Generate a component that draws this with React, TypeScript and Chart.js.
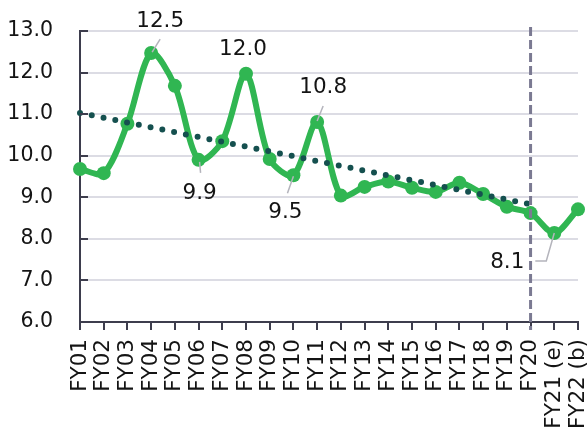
import React, { useEffect, useRef } from "react";
import { Chart, registerables } from "chart.js";

Chart.register(...registerables);

const categories = [
  "FY01", "FY02", "FY03", "FY04", "FY05", "FY06", "FY07", "FY08", "FY09", "FY10", "FY11",
  "FY12", "FY13", "FY14", "FY15", "FY16", "FY17", "FY18", "FY19", "FY20", "FY21 (e)", "FY22 (b)",
];

const values = [
  9.68, 9.58, 10.77, 12.47, 11.68, 9.9, 10.35, 11.97, 9.92, 9.53, 10.81,
  9.04, 9.25, 9.38, 9.23, 9.13, 9.35, 9.08, 8.77, 8.62, 8.14, 8.71,
];

// linear trend over FY01..FY20 (endpoints)
const trend: (number | null)[] = [
  11.03, null, null, null, null, null, null, null, null, null, null,
  null, null, null, null, null, null, null, null, 8.83, null, null,
];

const yTicks = [6, 7, 8, 9, 10, 11, 12, 13];

const dividerIndex = 19; // FY20

const callouts = [
  { index: 3, text: "12.5", dx: 9, dy: -32, leader: [[1, -1], [9, -14]] },
  { index: 7, text: "12.0", dx: -3, dy: -24, leader: [] as number[][] },
  { index: 5, text: "9.9", dx: 1, dy: 34, leader: [[1, 2], [2, 13]] },
  { index: 9, text: "9.5", dx: -8, dy: 37, leader: [[0, 1], [-6, 18]] },
  { index: 10, text: "10.8", dx: 6, dy: -35, leader: [[0, -1], [6, -16]] },
  { index: 20, text: "8.1", dx: -47, dy: 29, leader: [[0, 0], [-8, 28], [-19, 28]] },
];

const FONT = "'DejaVu Sans', Verdana, sans-serif";
const AXIS = "#3d3d4d";
const GREEN = "#30b652";
const TEAL = "#15504f";

const extrasPlugin = {
  id: "extras",
  afterDatasetsDraw(chart: any) {
    const { ctx, chartArea, scales } = chart;
    const x = scales.x;
    const y = scales.y;
    ctx.save();
    // inward y ticks
    ctx.strokeStyle = AXIS;
    ctx.lineWidth = 2;
    for (const t of yTicks) {
      const py = Math.round(y.getPixelForValue(t));
      ctx.beginPath();
      ctx.moveTo(chartArea.left, py);
      ctx.lineTo(chartArea.left + 8, py);
      ctx.stroke();
    }
    // divider
    const px = x.getPixelForValue(dividerIndex);
    ctx.setLineDash([9, 4]);
    ctx.strokeStyle = "#7b7a92";
    ctx.lineWidth = 3;
    ctx.beginPath();
    ctx.moveTo(px, chartArea.top - 4);
    ctx.lineTo(px, chartArea.bottom + 8);
    ctx.stroke();
    ctx.setLineDash([]);
    // callouts
    ctx.font = `21.5px ${FONT}`;
    ctx.fillStyle = "#141414";
    ctx.textAlign = "center";
    ctx.textBaseline = "middle";
    for (const c of callouts) {
      const cx = x.getPixelForValue(c.index);
      const cy = y.getPixelForValue(values[c.index]);
      if (c.leader.length) {
        ctx.strokeStyle = "#b4b4bc";
        ctx.lineWidth = 1.5;
        ctx.beginPath();
        c.leader.forEach((p, i) => {
          if (i === 0) ctx.moveTo(cx + p[0], cy + p[1]);
          else ctx.lineTo(cx + p[0], cy + p[1]);
        });
        ctx.stroke();
      }
      ctx.fillText(c.text, cx + c.dx, cy + c.dy);
    }
    ctx.restore();
  },
};

export default function App() {
  const ref = useRef<HTMLCanvasElement | null>(null);
  useEffect(() => {
    if (!ref.current) return;
    const chart = new Chart(ref.current, {
      type: "line",
      data: {
        labels: categories,
        datasets: [
          {
            label: "Trend",
            data: trend,
            spanGaps: true,
            borderColor: TEAL,
            borderWidth: 6,
            borderDash: [0, 12],
            borderCapStyle: "round",
            pointRadius: 0,
            fill: false,
            tension: 0,
            order: 0,
          },
          {
            label: "Value",
            data: values,
            borderColor: GREEN,
            backgroundColor: GREEN,
            borderWidth: 6,
            pointRadius: 7,
            pointBackgroundColor: GREEN,
            pointBorderColor: GREEN,
            pointBorderWidth: 0,
            tension: 0.3,
            fill: false,
            order: 1,
          },
        ],
      },
      options: {
        responsive: false,
        animation: false,
        devicePixelRatio: 1,
        layout: { padding: { top: 31, right: 9, left: 0, bottom: 0 } },
        plugins: {
          legend: { display: false },
          tooltip: { enabled: false },
        },
        scales: {
          x: {
            type: "category",
            offset: false,
            grid: {
              drawOnChartArea: false,
              drawTicks: true,
              tickLength: 8,
              color: AXIS,
              lineWidth: 2,
            },
            border: { color: AXIS, width: 2 },
            ticks: {
              autoSkip: false,
              minRotation: 90,
              maxRotation: 90,
              padding: 9,
              color: "#141414",
              font: { family: FONT, size: 21.5 },
            },
            afterFit(scale: any) {
              scale.height = 110;
              scale.paddingLeft = 0;
              scale.paddingRight = 0;
            },
          },
          y: {
            min: 6,
            max: 13,
            grid: {
              color: "#dcdce4",
              lineWidth: 2,
              drawTicks: false,
            },
            border: { color: AXIS, width: 2 },
            ticks: {
              stepSize: 1,
              padding: 27,
              color: "#141414",
              font: { family: FONT, size: 20.5 },
              callback: (v: any) => Number(v).toFixed(1),
            },
            afterFit(scale: any) {
              scale.width = 80;
              scale.paddingTop = 0;
              scale.paddingBottom = 0;
            },
          },
        },
      },
      plugins: [extrasPlugin],
    });
    return () => chart.destroy();
  }, []);
  return (
    <div style={{ position: "absolute", left: 0, top: 0, width: 587, height: 432 }}>
      <canvas ref={ref} width={587} height={432} style={{ width: 587, height: 432 }} />
    </div>
  );
}
